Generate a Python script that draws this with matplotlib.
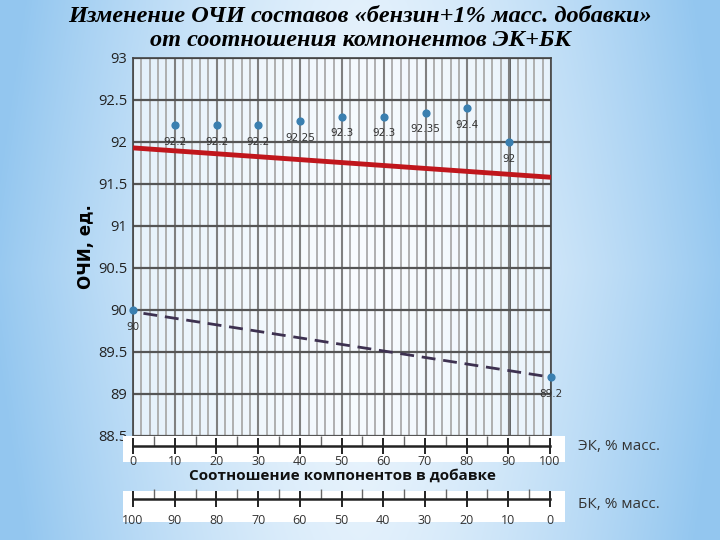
import numpy as np
import matplotlib
matplotlib.use("Agg")
import matplotlib.pyplot as plt
from matplotlib.patches import Rectangle
from matplotlib.ticker import MultipleLocator

# ---- data ----
ek_pct = [0, 10, 20, 30, 40, 50, 60, 70, 80, 90, 100]
ochi = [90, 92.2, 92.2, 92.2, 92.25, 92.3, 92.3, 92.35, 92.4, 92, 89.2]
point_labels = ["90", "92.2", "92.2", "92.2", "92.25", "92.3", "92.3", "92.35", "92.4", "92", "89.2"]
red_trend_x = [0, 100]
red_trend_y = [91.93, 91.58]
dash_trend_x = [2.5, 100]
dash_trend_y = [89.96, 89.2]
ek_ticks = [0, 10, 20, 30, 40, 50, 60, 70, 80, 90, 100]
bk_ticks = [100, 90, 80, 70, 60, 50, 40, 30, 20, 10, 0]
y_ticks = [88.5, 89, 89.5, 90, 90.5, 91, 91.5, 92, 92.5, 93]

W, H = 720, 540
fig = plt.figure(figsize=(7.2, 5.4), dpi=100)

def fx(px):
    return px / W

def fy(py):
    return 1 - py / H

# background gradient
bg = fig.add_axes([0, 0, 1, 1], zorder=-10)
xx = np.linspace(-1, 1, 400)
yy = np.linspace(-1, 1, 300)
X, Y = np.meshgrid(xx, yy)
r = np.clip(np.abs(X) ** 1.5 * 0.95 + 0.15 * np.abs(Y), 0, 1)
c_center = np.array([0.94, 0.97, 0.995])
c_edge = np.array([0.58, 0.78, 0.94])
img = c_center[None, None, :] * (1 - r[..., None]) + c_edge[None, None, :] * r[..., None]
bg.imshow(img, aspect="auto", extent=[0, 1, 0, 1])
bg.set_axis_off()

# main axes
L, R, T, B = 133, 551, 58, 436
ax = fig.add_axes([fx(L), fy(B), fx(R - L), (B - T) / H])
ax.set_facecolor((1, 1, 1, 0.6))
ax.set_xlim(0, 100)
ax.set_ylim(88.5, 93)
ax.set_yticks(y_ticks)
ax.set_yticklabels([f"{v:g}" for v in y_ticks], fontsize=10.5, family="Open Sans", color="#222222")
ax.tick_params(axis="y", length=0, pad=4)
ax.tick_params(axis="x", length=0, labelbottom=False)
ax.xaxis.set_major_locator(MultipleLocator(10))
ax.xaxis.set_minor_locator(MultipleLocator(2))
ax.grid(which="major", axis="y", color="#555555", lw=1.6)
ax.grid(which="minor", axis="x", color="#aaaaaa", lw=1.3)
ax.grid(which="major", axis="x", color="#808080", lw=1.5)
ax.axvline(90, color="#555555", lw=2.0, zorder=1)
for s in ax.spines.values():
    s.set_color("#444444")
    s.set_linewidth(1.2)
ax.spines["bottom"].set_visible(False)

ax.plot(red_trend_x, red_trend_y, color="#c0161c", lw=3.5, zorder=3)
ax.plot(dash_trend_x, dash_trend_y, color="#3d3150", lw=2.0, dashes=(5, 2.8), zorder=3)
ax.scatter(ek_pct, ochi, s=24, color="#3a7fb0", zorder=5, clip_on=False)
for x, y, lab in zip(ek_pct, ochi, point_labels):
    ax.annotate(lab, (x, y), xytext=(0, -12), textcoords="offset points", ha="center",
                va="center", fontsize=7.5, color="#333333", family="DejaVu Sans", zorder=6,
                annotation_clip=False)

ax.set_ylabel("ОЧИ, ед.", fontsize=12, fontweight="bold", family="DejaVu Sans", labelpad=2)

# title
fig.text(fx(360), fy(17), "Изменение ОЧИ составов «бензин+1% масс. добавки»",
         ha="center", va="center", fontsize=17.5, fontweight="bold", style="italic",
         family="Liberation Serif")
fig.text(fx(360), fy(40), "от соотношения компонентов ЭК+БК",
         ha="center", va="center", fontsize=17.5, fontweight="bold", style="italic",
         family="Liberation Serif")

# lower axes strips
def strip(box_top, box_bot, line_y, ticks, xlim, label, label_y, pad):
    fig.patches.append(Rectangle((fx(123), fy(box_bot)), fx(565 - 123), (box_bot - box_top) / H,
                                 transform=fig.transFigure, facecolor="white", edgecolor="none",
                                 zorder=5))
    a = fig.add_axes([fx(L), fy(line_y), fx(550 - L), 0.001], zorder=6)
    a.set_facecolor("none")
    a.set_xlim(*xlim)
    for k in ["top", "left", "right"]:
        a.spines[k].set_visible(False)
    a.spines["bottom"].set_linewidth(1.8)
    a.spines["bottom"].set_color("#222222")
    a.set_yticks([])
    a.set_xticks(ticks)
    a.set_xticklabels([str(t) for t in ticks], fontsize=9, family="Open Sans", color="#333333")
    a.xaxis.set_minor_locator(MultipleLocator(5))
    a.tick_params(axis="x", which="major", direction="inout", length=11, width=1.4, color="#222222", pad=pad)
    a.tick_params(axis="x", which="minor", direction="in", length=7, width=1.0, color="#666666")
    fig.text(fx(578), fy(label_y), label, ha="left", va="center", fontsize=11,
             family="Open Sans", color="#333333")

strip(436, 462, 446, ek_ticks, (0, 100), "ЭК, % масс.", 447, 1)
strip(491, 522, 499, bk_ticks, (100, 0), "БК, % масс.", 505, 5)

fig.text(fx(342), fy(476), "Соотношение компонентов в добавке", ha="center", va="center",
         fontsize=11, fontweight="bold", family="Open Sans", color="#111111")

fig.savefig("out.png", dpi=100)
